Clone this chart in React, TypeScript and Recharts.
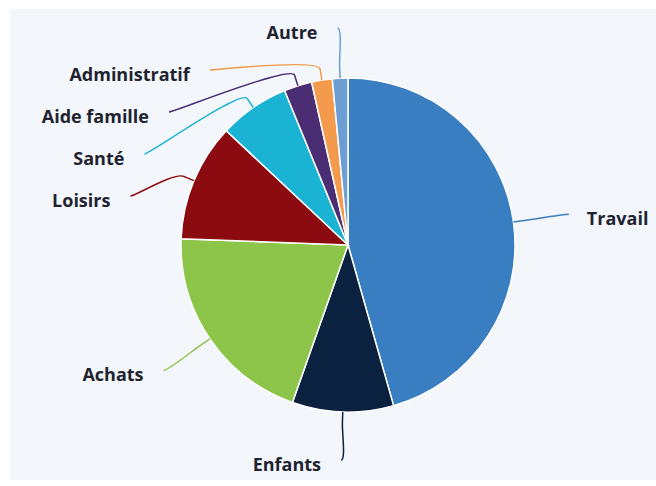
import { PieChart, Pie, Cell } from 'recharts';

const categories = ['Travail', 'Enfants', 'Achats', 'Loisirs', 'Santé', 'Aide famille', 'Administratif', 'Autre'];
const shares = [45.6, 9.8, 20.2, 11.4, 6.8, 2.7, 2.0, 1.5];
const colors = ['#3a7ec2', '#0a2240', '#8dc44a', '#8c0b10', '#1bb3d3', '#4b2d73', '#f39a4d', '#6c9ed4'];

const data = categories.map((name, i) => ({ name, value: shares[i] }));

const CX = 348;
const CY = 245;
const RADIUS = 167;
const DISTANCE = 56;
const LABEL_GAP = 42;
const TOP_BOUND = 28;
const BOTTOM_BOUND = 460;

type LabelPos = { x: number; y: number; left: boolean; dirX: number; dirY: number };

// highcharts-like placement: labels on a ring, pushed apart vertically per side
function layoutLabels(cx: number, cy: number, r: number): LabelPos[] {
  const total = shares.reduce((a, b) => a + b, 0);
  const R = r + DISTANCE;
  let acc = 0;
  const pos: LabelPos[] = shares.map((v) => {
    const mid = ((acc + v / 2) / total) * 2 * Math.PI;
    acc += v;
    const dirX = Math.sin(mid);
    const dirY = -Math.cos(mid);
    return { x: cx + R * dirX, y: cy + R * dirY, left: dirX < 0, dirX, dirY };
  });
  [true, false].forEach((left) => {
    const idx = pos.map((p, i) => i).filter((i) => pos[i].left === left).sort((a, b) => pos[a].y - pos[b].y);
    let prev = -Infinity;
    idx.forEach((i) => {
      const p = pos[i];
      const natural = Math.min(Math.max(p.y, TOP_BOUND), BOTTOM_BOUND);
      const y = Math.max(natural, prev + LABEL_GAP);
      if (y !== natural) {
        const dy = y - cy;
        const dx = Math.sqrt(Math.max(R * R - dy * dy, 0));
        p.x = left ? cx - dx : cx + dx;
      }
      p.y = y;
      prev = y;
    });
  });
  return pos;
}

const renderLabel = (props: any) => {
  const { index, cx, cy, outerRadius } = props;
  const p = layoutLabels(cx, cy, outerRadius)[index];
  const tx = cx + outerRadius * p.dirX;
  const ty = cy + outerRadius * p.dirY;
  const bx = tx + 11 * p.dirX;
  const by = ty + 11 * p.dirY;
  const c1 = p.x + (p.left ? 5 : -5);
  const d = `M ${p.x} ${p.y} C ${c1} ${p.y} ${2 * bx - tx} ${2 * by - ty} ${bx} ${by} L ${tx} ${ty}`;
  return (
    <g key={`lbl-${index}`}>
      <path d={d} fill="none" stroke={colors[index]} strokeWidth={1.5} />
      <text
        x={p.left ? p.x - 20 : p.x + 18}
        y={p.y + 4}
        textAnchor={p.left ? 'end' : 'start'}
        dominantBaseline="central"
        fontFamily="'Open Sans', sans-serif"
        fontWeight={700}
        fontSize={18}
        fill="#1f2330"
      >
        {categories[index]}
      </text>
    </g>
  );
};

export default function App() {
  return (
    <div style={{ position: 'absolute', left: 0, top: 0, width: 656, height: 486, background: '#fff' }}>
      <div style={{ position: 'absolute', left: 10, top: 9, width: 646, height: 471, background: '#f3f7fb' }} />
      <div style={{ position: 'absolute', left: 0, top: 0 }}>
        <PieChart width={656} height={486} margin={{ top: 0, right: 0, bottom: 0, left: 0 }}>
          <Pie
            data={data}
            dataKey="value"
            nameKey="name"
            cx={CX}
            cy={CY}
            outerRadius={RADIUS}
            startAngle={90}
            endAngle={-270}
            stroke="#ffffff"
            strokeWidth={1.5}
            label={renderLabel}
            labelLine={false}
            isAnimationActive={false}
          >
            {data.map((d, i) => (
              <Cell key={d.name} fill={colors[i]} />
            ))}
          </Pie>
        </PieChart>
      </div>
    </div>
  );
}
